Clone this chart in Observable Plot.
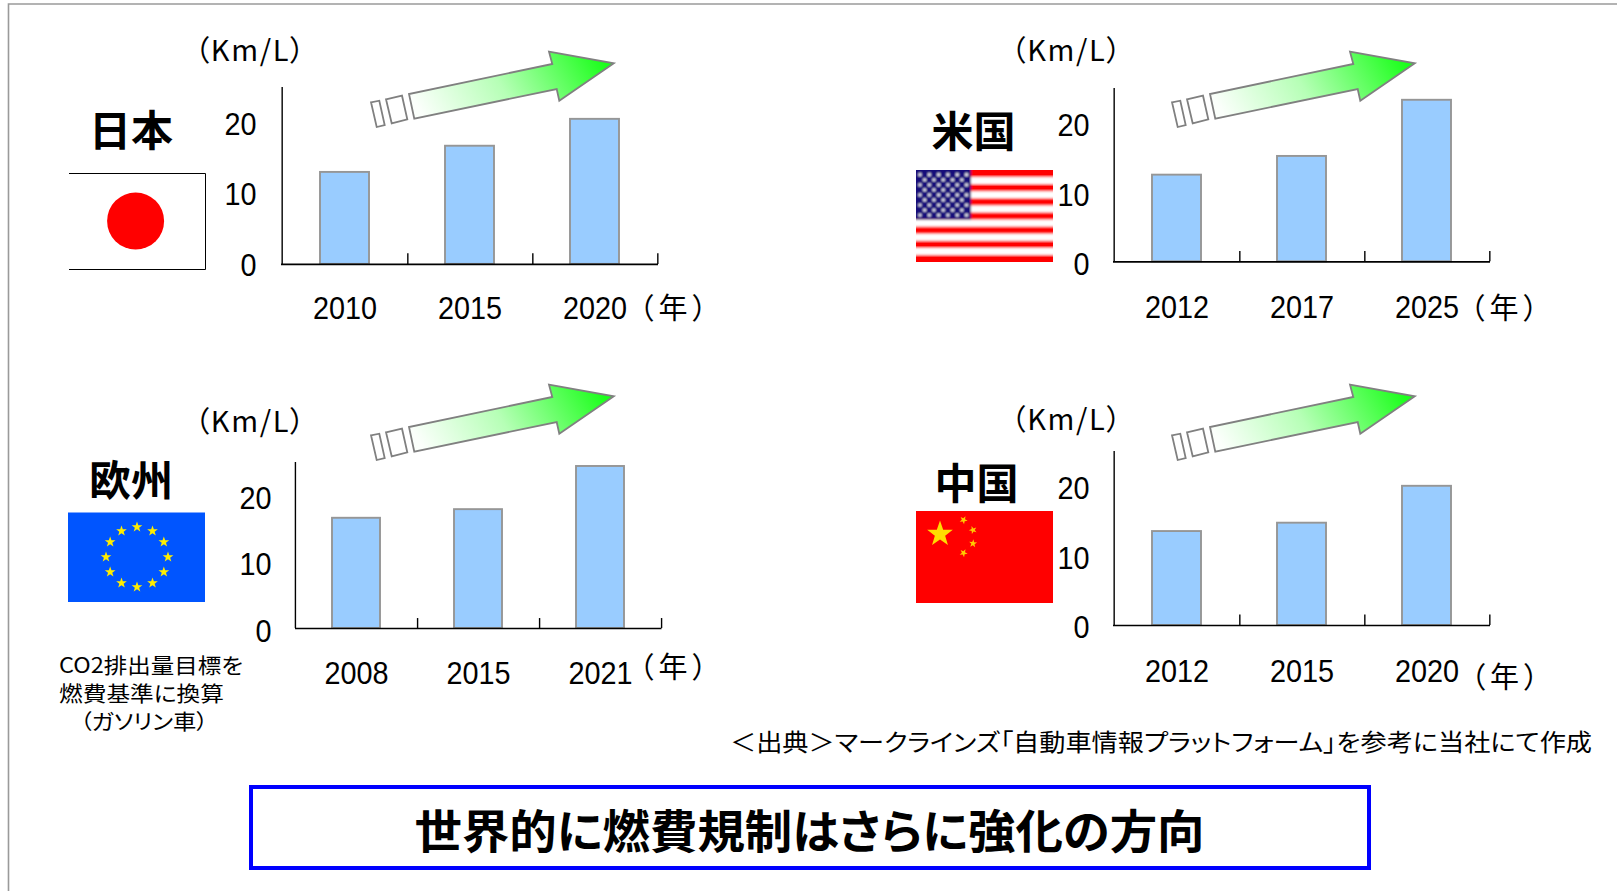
<!DOCTYPE html>
<html lang="ja">
<head>
<meta charset="utf-8">
<title>世界的に燃費規制はさらに強化の方向</title>
<script src="https://cdn.jsdelivr.net/npm/d3@7"></script>
<script src="https://cdn.jsdelivr.net/npm/@observablehq/plot@0.6"></script>
<style>
  html, body { margin: 0; background: #fff; }
  #page { position: relative; width: 1617px; height: 891px; overflow: hidden; }
  #page > svg, #page > figure { position: absolute; margin: 0; }
  #page svg { overflow: visible; }
  .jp { font-family: "Noto Sans CJK JP", sans-serif; font-feature-settings: "palt"; }
</style>
</head>
<body>
<div id="page"></div>
<script>
// Fuel economy targets (km/L) by region
const japanYears = ["2010", "2015", "2020"];
const japanValues = [13, 16.7, 20.5];
const usaYears = ["2012", "2017", "2025"];
const usaValues = [12.5, 15.2, 23.3];
const europeYears = ["2008", "2015", "2021"];
const europeValues = [16.6, 17.9, 24.4];
const chinaYears = ["2012", "2015", "2020"];
const chinaValues = [13.5, 14.7, 20];
const yTicks = [0, 10, 20];

const page = d3.select("#page");

// One bar panel: left/right are the axis ends, top/base the vertical extent, on the page.
function panel(years, values, {left, right, top, base, yPad, xPad, yShift}) {
  const marginLeft = 70, marginRight = 4, marginTop = 4, marginBottom = 70;
  const plotWidth = right - left;
  const step = plotWidth / years.length;
  const table = years.map((year, i) => ({year, value: values[i]}));
  const chart = Plot.plot({
    width: plotWidth + marginLeft + marginRight,
    height: base - top + marginTop + marginBottom,
    marginLeft, marginRight, marginTop, marginBottom,
    style: {font: '32px "Liberation Sans", sans-serif', color: "#000", background: "transparent"},
    x: {type: "band", domain: years, paddingInner: 0.61, paddingOuter: 0.305, label: null},
    y: {domain: [0, 25], label: null},
    marks: [
      Plot.barY(table, {x: "year", y: "value", fill: "#99ccff", stroke: "#969696", strokeWidth: 1.9}),
      Plot.ruleY([0], {stroke: "#000", strokeWidth: 1.7}),
      Plot.ruleX([years[0]], {y1: 0, y2: 25, dx: -step / 2, stroke: "#000", strokeWidth: 1.4}),
      Plot.ruleX(years, {y1: 0, y2: 1.5, dx: step / 2, stroke: "#000", strokeWidth: 1.4}),
      Plot.axisX({tickSize: 0, tickPadding: xPad, label: null}),
      Plot.axisY({ticks: yTicks, tickSize: 0, tickPadding: yPad, dy: yShift, label: null})
    ]
  });
  chart.style.left = `${left - marginLeft}px`;
  chart.style.top = `${top - marginTop}px`;
  page.node().append(chart);
  // Tick numerals are set in a condensed width
  d3.select(chart).selectAll("text").each(function () {
    const w = this.getComputedTextLength();
    d3.select(this).attr("textLength", w * 0.9).attr("lengthAdjust", "spacingAndGlyphs");
  });
}

panel(japanYears, japanValues, {left: 281, right: 658, top: 86.6, base: 263.5, yPad: 25, xPad: 31.5, yShift: 1.5});
panel(usaYears, usaValues, {left: 1113, right: 1490, top: 87.7, base: 261, yPad: 24, xPad: 33, yShift: 3});
panel(europeYears, europeValues, {left: 294.5, right: 661, top: 462, base: 628, yPad: 24, xPad: 33, yShift: 3});
panel(chinaYears, chinaValues, {left: 1113, right: 1490, top: 451, base: 625, yPad: 24, xPad: 34, yShift: 2.5});

// Everything around the panels: frame, flags, arrows, headings, notes.
const art = page.append("svg").attr("width", 1617).attr("height", 891).style("left", 0).style("top", 0);
const defs = art.append("defs");

const gradient = defs.append("linearGradient").attr("id", "rise")
  .attr("gradientUnits", "objectBoundingBox").attr("x1", 0).attr("y1", 0.6).attr("x2", 1).attr("y2", 0.4);
gradient.append("stop").attr("offset", 0).attr("stop-color", "#fbfffb");
gradient.append("stop").attr("offset", 0.45).attr("stop-color", "#b6ffb6");
gradient.append("stop").attr("offset", 1).attr("stop-color", "#1cff1c");

defs.append("filter").attr("id", "soft").attr("x", "-5%").attr("y", "-5%").attr("width", "110%").attr("height", "110%")
  .append("feGaussianBlur").attr("stdDeviation", 1);
defs.append("clipPath").attr("id", "usaClip").append("rect")
  .attr("x", 916).attr("y", 170).attr("width", 137).attr("height", 92);

// Page frame along the top and left edges
art.append("path").attr("d", "M8.5 891V4H1617").attr("fill", "none").attr("stroke", "#9a9a9a").attr("stroke-width", 1.6);

function arrow(dx, dy) {
  const g = art.append("g").attr("transform", `translate(${dx},${dy})`)
    .attr("stroke", "#808080").attr("stroke-width", 1.8).attr("stroke-linejoin", "miter");
  g.append("polygon").attr("fill", "url(#rise)")
    .attr("points", "414.3,118.7 409,94 552.3,64 549,51.7 613.8,63.3 559.3,100.7 556.7,89");
  g.append("polygon").attr("fill", "#fff").attr("points", "386,99.3 402,95.7 407.3,119.3 391.7,123.3");
  g.append("polygon").attr("fill", "#fff").attr("points", "371,102.3 379.3,100.7 384.7,125 376.7,127");
}
arrow(0, 0);
arrow(801, 0);
arrow(0, 333);
arrow(801, 333);

function star(cx, cy, r, rotate = 0) {
  return d3.range(10).map(i => {
    const a = -Math.PI / 2 + i * Math.PI / 5 + rotate;
    const q = i % 2 ? r * 0.4 : r;
    return `${cx + q * Math.cos(a)},${cy + q * Math.sin(a)}`;
  }).join(" ");
}

// Japan
art.append("rect").attr("x", 69).attr("y", 173.5).attr("width", 136).attr("height", 96).attr("fill", "#fff");
art.append("path").attr("d", "M69 173.5H205.5V269.5H69").attr("fill", "none").attr("stroke", "#000").attr("stroke-width", 1);
art.append("circle").attr("cx", 135.6).attr("cy", 221).attr("r", 28.5).attr("fill", "#ff0000");

// United States
{
  const g = art.append("g").attr("clip-path", "url(#usaClip)").append("g").attr("filter", "url(#soft)");
  g.append("rect").attr("x", 906).attr("y", 160).attr("width", 157).attr("height", 112).attr("fill", "#ff0000");
  const band = 92 / 13;
  d3.range(1, 13, 2).forEach(i => {
    g.append("rect").attr("x", 906).attr("y", 170 + i * band).attr("width", 157).attr("height", band).attr("fill", "#fff");
  });
  g.append("rect").attr("x", 906).attr("y", 160).attr("width", 65).attr("height", 59.5).attr("fill", "#14087a");
  d3.range(9).forEach(row => {
    const count = row % 2 ? 5 : 6;
    d3.range(count).forEach(col => {
      g.append("circle")
        .attr("cx", 920 + col * 9.3 + (row % 2 ? 4.65 : 0))
        .attr("cy", 174.7 + row * 5.05)
        .attr("r", 1.6).attr("fill", "#fff");
    });
  });
}

// Europe
art.append("rect").attr("x", 68).attr("y", 512.5).attr("width", 137).attr("height", 89.5).attr("fill", "#0055ff");
d3.range(12).forEach(i => {
  const a = i * Math.PI / 6;
  art.append("polygon").attr("fill", "#ffee00")
    .attr("points", star(137 + 31 * Math.sin(a), 557 - 30 * Math.cos(a), 5.6));
});

// China
art.append("rect").attr("x", 916).attr("y", 511).attr("width", 137).attr("height", 92).attr("fill", "#ff0000");
art.append("polygon").attr("fill", "#ffdd00").attr("points", star(940, 534, 13.5));
[[963.5, 520, 0.5], [973, 530, 0.9], [973, 543.5, 0.1], [963.5, 553, 0.5]].forEach(([x, y, rot]) => {
  art.append("polygon").attr("fill", "#ffcc00").attr("points", star(x, y, 4.2, rot));
});

// Text helper: centred on (x, y), optionally fitted to a measured width
function label(text, x, y, {size, weight = 400, length, anchor = "middle", squeeze = false}) {
  const t = art.append("text").attr("class", "jp")
    .attr("x", x).attr("y", y)
    .attr("text-anchor", anchor).attr("dominant-baseline", "central")
    .attr("font-size", size).attr("font-weight", weight).attr("fill", "#000")
    .text(text);
  if (length) {
    t.attr("textLength", length).attr("lengthAdjust", squeeze ? "spacingAndGlyphs" : "spacing");
  }
  return t;
}

[["日本", 131, 127], ["米国", 973.5, 128], ["欧州", 131, 477.5], ["中国", 976.6, 480.7]]
  .forEach(([name, x, y]) => label(name, x, y, {size: 42, weight: 700, length: 84}));

[[249.6, 47.5], [1066, 47.5], [249.6, 418.7], [1066, 417]]
  .forEach(([x, y]) => label("（Km/L）", x, y, {size: 29, length: 110}));

[[673, 306], [1504, 306], [673, 665], [1504.6, 674.5]]
  .forEach(([x, y]) => label("（年）", x, y, {size: 29, length: 68}));

label("CO2排出量目標を", 59, 664, {size: 21, anchor: "start", length: 184, squeeze: true});
label("燃費基準に換算", 59, 692, {size: 21, anchor: "start", length: 165, squeeze: true});
label("（ガソリン車）", 80, 720, {size: 21, anchor: "start", length: 128, squeeze: true});

label("＜出典＞マークラインズ「自動車情報プラットフォーム」を参考に当社にて作成", 730, 740.5,
  {size: 24, anchor: "start", length: 862, squeeze: true});

// Conclusion box
art.append("rect").attr("x", 251).attr("y", 787).attr("width", 1118).attr("height", 81)
  .attr("fill", "#fff").attr("stroke", "#0000ff").attr("stroke-width", 4);
label("世界的に燃費規制はさらに強化の方向", 809.5, 828, {size: 46, weight: 700, length: 790, squeeze: true});
</script>
</body>
</html>
